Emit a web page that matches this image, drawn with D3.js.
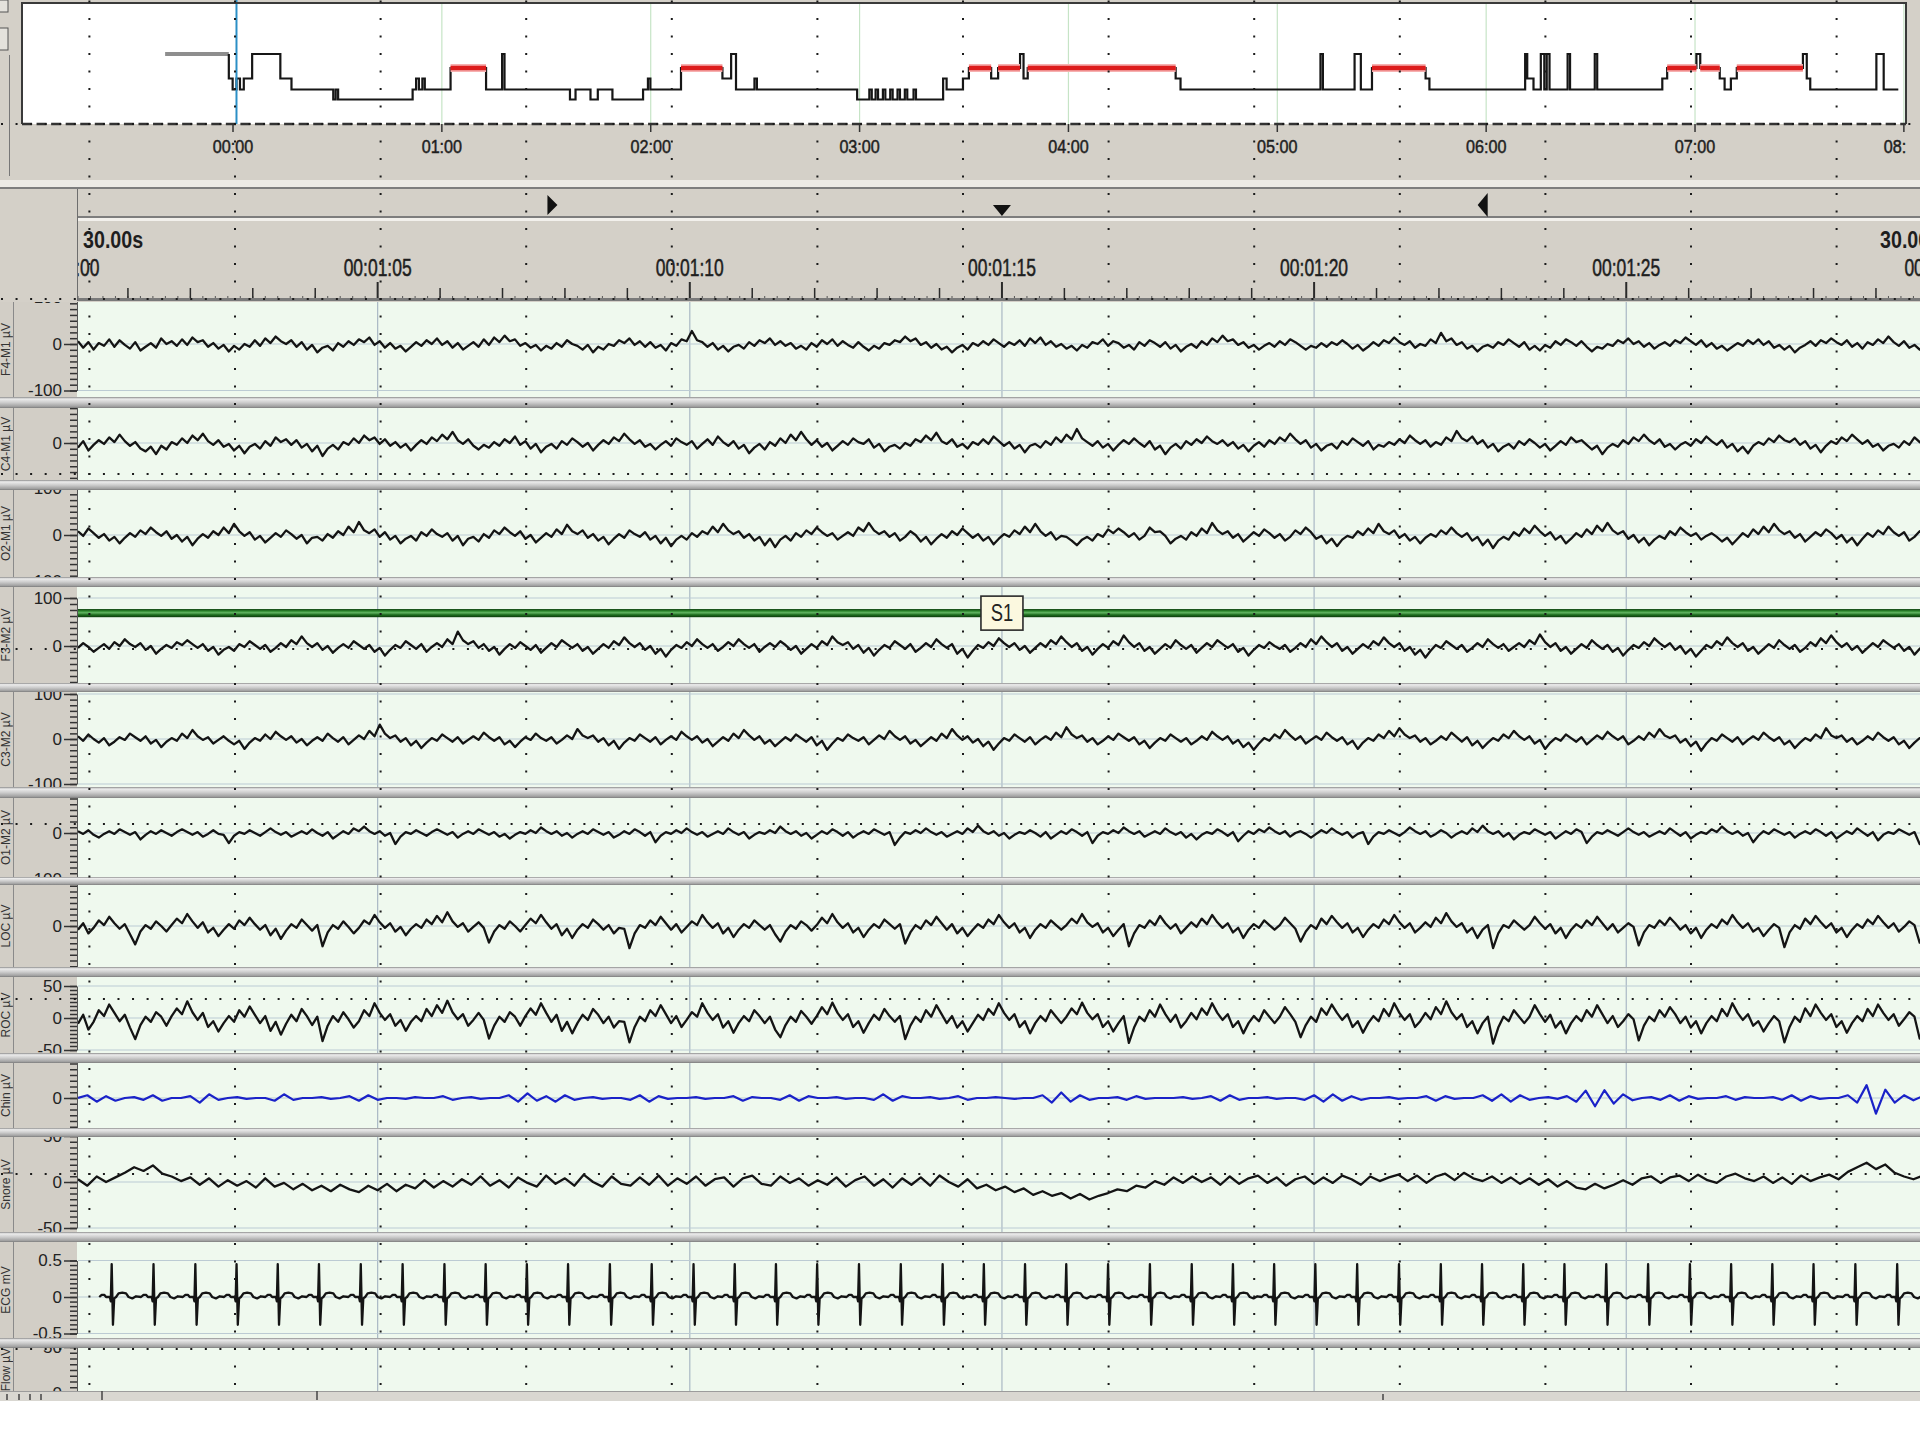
<!DOCTYPE html>
<html>
<head>
<meta charset="utf-8">
<script src="https://cdn.jsdelivr.net/npm/d3@7"></script>
<style>
  body { margin: 0; background: #ffffff; }
  svg { display: block; }
</style>
</head>
<body>
<div id="vis-holder"></div>
<script>
// ---------------- data ----------------

// Hypnogram: minute (from 00:00) at which each stage starts
const lightsOff = [-19.5, -1.2];
const hypnoMinutes = [-1.2, -0.1, 1.0, 2.0, 3.1, 5.5, 13.6, 16.8, 28.8, 29.5, 30.2, 51.6, 52.6, 53.4, 54.4, 55.1,
  62.5, 72.7, 77.3, 78.0, 96.8, 98.4, 102.7, 104.8, 109.0, 117.8, 119.2, 119.9, 128.7, 140.6, 143.1, 144.5,
  149.8, 150.5, 179.3, 182.8, 183.5, 184.6, 185.3, 186.7, 187.4, 188.8, 189.5, 190.9, 191.6, 193.0, 193.7,
  195.5, 196.2, 204.0, 205.0, 209.7, 211.4, 217.8, 219.8, 226.1, 227.1, 228.3, 270.8, 272.2, 312.4, 313.1,
  322.2, 324.0, 327.2, 342.6, 343.7, 371.2, 371.8, 373.6, 375.7, 376.7, 377.4, 378.2, 383.4, 384.1, 391.2,
  391.9, 410.6, 412.0, 420.4, 421.5, 427.1, 428.5, 430.3, 432.0, 451.0, 452.1, 453.1, 472.1, 474.2];
const hypnoStages = ["N1", "N2", "N1", "N2", "N1", "W", "N1", "N2", "N3", "N2", "N3", "N2", "N1", "N2", "N1", "N2",
  "R", "N2", "W", "N2", "N3", "N2", "N3", "N2", "N3", "N2", "N1", "N2", "R", "N1", "W", "N2",
  "N1", "N2", "N3", "N2", "N3", "N2", "N3", "N2", "N3", "N2", "N3", "N2", "N3", "N2", "N3",
  "N2", "N3", "N1", "N2", "N1", "R", "N1", "R", "W", "N1", "R", "N1", "N2", "W", "N2",
  "W", "N2", "R", "N1", "N2", "W", "N1", "N2", "W", "N2", "W", "N2", "W", "N2", "W",
  "N2", "N1", "R", "W", "R", "N1", "N2", "N1", "R", "W", "N1", "N2", "W", "N2"];
const hypnoEnd = 478.4;
const stageNames = ["W", "R", "N1", "N2", "N3"];
const hourLabels = ["00:00", "01:00", "02:00", "03:00", "04:00", "05:00", "06:00", "07:00", "08:00"];
const cursorMinute = 1.0;

// 30 s page, seconds from 00:01:00
const pageLabel = "30.00s";
const rulerLabels = ["00:01:00", "00:01:05", "00:01:10", "00:01:15", "00:01:20", "00:01:25", "00:01:30"];
const navMarkers = [7.8, 15.0, 22.7];
const eventLabel = "S1";
const eventTime = 15.0;
const eventBand = [60, 77];

// Channels
const channelNames = ["F4-M1 µV", "C4-M1 µV", "O2-M1 µV", "F3-M2 µV", "C3-M2 µV", "O1-M2 µV",
  "LOC µV", "ROC µV", "Chin µV", "Snore µV", "ECG mV", "Flow µV"];
const channelLimits = [100, 100, 100, 100, 100, 100, 100, 50, 100, 50, 0.5, 50];

// EEG / EOG sampled every 1/12 s, chin and snore every 0.15 s, all from 0.2 s
const sampleStart = 0.2;
const fineStep = 1 / 12;
const coarseStep = 0.15;

const f4m1 = [
  6,-8,4,-12,2,-4,10,-6,8,-2,-10,4,-14,-6,2,-8,12,0,6,-4,
  10,-2,14,4,8,-6,2,-10,-2,-16,-4,-12,0,-6,8,-4,12,2,16,6,
  0,8,-6,4,-12,-2,-18,-8,-4,-14,2,-6,6,-2,10,4,14,-2,6,-8,
  2,-10,-4,-16,-6,4,-4,8,0,12,-2,6,-8,2,-12,-4,4,-6,10,-2,
  14,4,18,6,10,-4,2,-8,-2,-14,-4,-10,2,-6,8,0,-4,-12,-2,-18,
  -6,-12,0,-4,8,2,12,-2,6,-6,4,-8,-2,-14,2,-4,10,6,28,8,
  4,-6,2,-12,-4,-16,-6,-2,-10,4,-4,8,2,12,-2,6,-4,2,-10,-4,
  -12,2,-6,8,0,10,-4,6,-2,-8,4,-6,-14,-4,-10,2,-2,8,4,16,
  6,12,-2,4,-8,0,-12,-6,-18,-8,-2,-12,2,-4,6,-2,10,2,-6,4,
  -2,8,-4,12,2,14,-2,6,-6,0,-10,-4,-14,-2,-8,4,0,10,-4,6,
  2,-8,-2,-12,4,-4,8,2,-6,4,-10,-2,-16,-6,0,-8,6,-2,12,4,
  18,6,10,-2,4,-8,-2,-12,-4,2,-6,6,-2,10,4,-4,-12,-4,-8,2,
  -6,4,-2,8,0,-10,-2,-14,-6,4,-4,8,2,14,4,-2,6,-8,0,-4,
  10,2,24,6,12,-2,4,-10,-4,-16,-6,-2,-8,4,-2,10,2,-6,4,-12,
  -4,-14,-2,-8,6,-2,10,4,-4,6,-6,-16,-6,-10,0,-4,8,2,12,0,
  6,-6,2,-10,-2,4,-4,8,2,14,6,-2,8,-6,2,-10,-4,-14,-6,2,
  -4,8,0,10,-2,6,-8,-2,-12,-4,-18,-8,-2,6,-4,8,2,12,4,-2,
  8,-6,2,-10,4,-2,10,2,16,4,-4,6,-8,-2,-12,-4,2,-6,4,-2];
const c4m1 = [
  -10,4,-16,-4,6,-2,12,2,18,4,-6,2,-12,-18,-8,-24,-6,-14,2,-4,
  10,0,16,6,20,4,-4,6,-8,-2,-16,-6,-22,-8,-2,-12,4,-6,12,2,
  8,-4,6,-10,-2,-18,-6,-28,-12,-4,-14,2,-4,10,0,16,6,12,-2,8,
  -6,2,-10,-2,-16,-4,6,-2,12,4,18,8,24,6,-2,8,-6,-14,-4,-10,
  2,-6,8,0,14,-4,4,-12,-2,-20,-8,-2,-12,4,-4,10,2,-8,0,-16,
  -4,6,-2,12,4,20,8,-2,6,-8,-2,-14,-4,4,-6,10,2,-4,4,-12,
  -2,8,-4,14,2,-6,4,-12,-4,-22,-10,-2,-14,2,-6,10,0,18,6,24,
  8,-4,6,-8,0,-16,-6,4,-4,10,2,-2,8,-10,-2,-18,-8,-4,-12,0,
  -6,8,2,16,6,22,4,-2,8,-8,-2,-12,2,-4,8,-2,14,4,-6,2,
  -12,-4,-20,-6,-2,-10,4,-4,12,2,18,8,30,10,2,-6,4,-10,-2,-16,
  -4,6,-2,10,0,-8,4,-14,-6,-24,-10,-2,-12,4,-4,8,0,14,4,-2,
  6,-6,2,-12,-4,-18,-6,2,-8,6,-2,12,4,20,8,-2,6,-10,-2,-16,
  -6,-2,-12,4,-4,10,2,-6,4,-14,-4,-8,2,-4,8,0,16,6,-2,6,
  -8,2,-4,12,4,26,10,4,14,-2,6,-10,-2,-18,-8,-2,-12,4,-4,8,
  0,-10,-2,-16,-6,4,-4,12,2,6,-4,-14,-6,-24,-10,-2,-8,6,-2,12,
  4,18,6,-2,8,-8,-2,-14,-4,2,-6,8,0,14,4,-4,6,-10,-2,-18,
  -8,-22,-6,2,-4,10,2,16,6,2,10,-4,4,-12,-4,-20,-6,4,-2,12,
  4,18,8,-2,6,-8,-2,-16,-6,-2,-10,4,-4,12,2,-6,4,-12,-4,6];
const o2m1 = [
  8,-2,14,4,-6,2,-12,-4,-18,-6,4,-4,10,2,16,6,-2,8,-8,0,
  -14,-4,-22,-8,2,-6,8,0,16,4,24,8,-2,6,-10,-2,-16,-6,4,-4,
  10,2,-8,0,-18,-6,-4,-12,2,-6,8,0,18,6,28,10,4,12,-4,6,
  -10,-2,-18,-8,-2,-12,6,-2,12,2,-4,4,-12,-2,-22,-8,-4,-14,2,-6,
  10,2,16,6,-2,8,-8,0,-16,-6,4,-4,12,2,22,8,2,10,-6,2,
  -12,-4,-20,-8,2,-6,10,2,-4,6,-10,-2,-18,-6,-24,-10,-2,-10,4,-4,
  8,2,18,6,24,10,2,8,-6,2,-12,-4,-22,-8,-26,-10,-2,-12,4,-4,
  10,2,16,6,-2,4,-10,-2,6,-2,16,8,26,10,2,8,-4,4,-12,-4,
  8,0,-14,-4,-20,-8,2,-6,8,0,14,4,-6,2,-12,-4,-20,-8,2,-4,
  10,2,18,6,24,8,-2,6,-10,-2,-4,-12,-22,-10,-4,-12,2,-4,12,4,
  14,6,-4,4,-10,-2,16,6,8,-2,-18,-8,-2,-10,6,-2,14,4,26,10,
  2,8,-6,2,-14,-4,6,-2,12,4,-6,2,-12,-4,10,2,16,6,-8,-2,
  -18,-8,-24,-10,-2,-6,8,0,14,4,24,8,2,10,-6,2,-12,-4,-18,-6,
  2,-4,10,2,16,4,-4,4,-12,-4,-22,-10,-28,-12,-4,-10,6,-2,14,4,
  20,8,-2,6,-10,-2,-18,-8,4,-4,12,2,20,8,26,10,2,8,-8,0,
  -16,-6,-22,-10,-2,-8,8,0,16,6,-2,4,-10,-2,4,-4,-14,-6,-20,-8,
  4,-4,12,2,18,6,24,10,2,8,-6,2,-14,-4,6,-2,12,4,-8,0,
  -16,-6,-22,-8,4,-4,10,2,18,6,-2,6,-12,-4,8,0,16,4,-6,2];
const f3m2 = [
  -4,6,-2,-12,-4,4,-6,8,0,14,4,-2,6,-8,0,-16,-6,2,-4,8,
  2,12,4,-4,4,-10,-2,-18,-8,-2,-10,4,-2,10,2,-6,2,-12,-4,6,
  -2,12,4,20,6,-2,6,-8,0,-14,-4,4,-4,10,2,-6,2,-12,-4,-20,
  -8,2,-4,10,2,-6,4,-12,-2,6,-2,14,4,30,12,4,10,-4,4,-10,
  -2,-18,-6,4,-4,8,0,-8,2,-14,-4,6,-2,12,4,-4,4,-10,-2,-16,
  -6,4,-4,10,2,18,6,-2,6,-8,0,-16,-6,-22,-8,2,-4,8,0,14,
  4,-4,4,-10,-2,8,0,14,4,-4,4,-12,-2,6,-2,10,2,-8,0,-16,
  -6,4,-4,10,2,20,8,2,8,-6,2,-14,-4,-20,-8,2,-4,10,2,-6,
  4,-12,-4,6,-2,14,4,-4,4,-16,-6,-24,-10,2,-4,8,0,16,6,-2,
  6,-8,0,-14,-4,6,-2,12,4,20,8,-2,6,-10,-2,-18,-6,4,-4,10,
  2,22,8,-2,6,-10,-2,-16,-6,4,-4,12,2,-6,2,-14,-4,6,-2,12,
  4,-4,4,-12,-4,-20,-8,2,-4,8,0,-6,2,-12,-4,6,-2,14,4,20,
  8,-2,6,-10,-2,-16,-6,4,-4,10,2,18,6,-2,6,-10,-2,-18,-8,-24,
  -10,2,-4,10,2,-6,2,-12,-4,6,-2,14,4,-4,4,-10,-2,6,-2,12,
  4,24,8,-2,6,-10,-2,-16,-6,4,-4,12,2,-6,2,-12,-4,-20,-8,2,
  -4,8,0,16,6,-2,6,-8,0,-16,-6,-22,-10,2,-4,10,2,18,6,-2,
  6,-10,-2,-16,-6,4,-4,12,2,-6,2,-12,-4,8,0,16,6,22,8,-2,
  6,-8,0,-14,-4,6,-2,12,4,-4,4,-10,-2,-18,-6,4,-4,10,2,-6];
const c3m2 = [
  6,-4,10,0,-8,2,-14,-6,4,-2,12,4,-4,6,-10,-2,-18,-6,2,-4,
  12,2,20,6,-2,4,-10,-2,6,-4,-12,-4,-22,-8,2,-4,10,0,16,6,
  -2,6,-8,0,-14,-4,4,-4,12,2,-6,4,-12,-2,8,0,18,6,32,12,
  2,8,-6,2,-14,-4,-20,-8,2,-4,10,2,-6,4,-10,-2,6,-2,14,4,
  -4,4,-12,-4,-18,-6,4,-2,12,2,-4,4,-10,-2,8,0,22,8,2,8,
  -6,2,-14,-4,-22,-8,2,-4,10,2,-6,4,-12,-2,6,-2,16,6,-2,6,
  -8,0,-16,-6,4,-4,12,2,20,8,-2,6,-10,-2,-16,-6,4,-4,10,2,
  -6,4,-14,-4,-24,-10,2,-4,10,2,-4,4,-12,-2,8,0,18,6,-2,6,
  -10,-2,-16,-6,4,-4,12,2,22,8,-2,6,-8,0,-16,-6,-24,-10,2,-4,
  10,2,-6,4,-12,-2,6,-2,14,4,26,10,2,8,-6,2,-12,-4,6,-2,
  12,4,-4,4,-12,-4,-20,-8,2,-4,10,2,-6,2,-12,-4,6,-2,16,6,
  -2,6,-10,-2,-18,-8,-24,-10,2,-4,10,2,20,8,-2,6,-10,-2,6,-2,
  14,4,-4,4,-12,-4,-22,-8,2,-4,10,2,18,6,24,10,2,8,-6,2,
  -12,-4,6,-2,14,4,-6,4,-14,-4,-20,-8,2,-4,10,2,18,6,-2,6,
  -10,-2,-22,-8,2,-4,10,2,-6,4,-12,-2,8,0,16,6,-2,6,-12,-4,
  6,-2,14,4,22,8,2,8,-8,0,-16,-6,-26,-10,2,-4,10,2,-6,4,
  -12,-2,6,-2,14,4,-4,4,-12,-4,-20,-8,2,-4,10,2,24,8,2,8,
  -6,2,-12,-4,6,-2,14,4,-4,4,-12,-4,-20,-8,2,-4,10,2,-6,4];
const o1m2 = [
  4,-2,6,-4,-10,-2,4,-2,8,2,-4,2,-14,-4,4,-2,6,0,-6,2,
  8,2,-4,2,-8,-2,6,-2,-4,-22,-6,2,-2,6,0,-6,2,10,2,-4,
  2,-8,-2,4,-2,8,0,-6,2,-12,-4,4,-2,10,4,14,4,-2,4,-6,
  0,-24,-8,2,-2,6,0,-6,2,8,2,-4,2,-10,-2,4,-2,8,2,-4,
  2,-8,-2,-12,-4,2,-2,6,0,12,4,-2,4,-6,0,-10,-2,4,-2,8,
  2,-4,2,-10,-4,4,-2,8,2,-6,2,-20,-6,2,-2,6,0,10,2,-4,
  2,-8,-2,4,-2,10,2,-4,2,-12,-4,2,-2,6,0,14,4,-2,4,-6,
  0,-12,-4,4,-2,8,2,-6,2,-10,-2,4,-2,8,2,-4,2,-26,-10,2,
  -2,6,0,10,2,-4,2,-8,-2,4,-2,10,2,16,4,-2,4,-6,0,-12,
  -4,2,-2,6,0,-8,2,-12,-4,4,-2,8,2,-6,2,-22,-6,2,-2,6,
  0,12,4,-2,4,-8,-2,4,-2,10,2,-4,2,-10,-2,-14,-4,2,-2,8,
  2,-6,2,-18,-6,4,-2,8,2,12,4,-2,4,-8,0,4,-2,-10,-2,6,
  0,10,2,-4,2,-10,-2,2,-24,-8,2,-2,6,0,-6,2,12,4,-2,4,
  -8,-2,6,0,-10,-2,4,-2,10,2,16,4,-2,4,-8,0,-14,-4,2,-2,
  8,2,-4,2,-12,-4,4,-2,8,2,-22,-8,2,-2,6,0,-6,2,10,2,
  -4,2,-8,-2,4,-2,10,2,-6,2,-12,-4,2,-2,8,2,14,4,-2,4,
  -6,0,-20,-6,4,-2,8,2,-4,2,-10,-2,4,-2,8,2,-6,2,-12,-4,
  4,-2,10,2,-6,2,-16,-4,2,-2,8,2,-4,2,-24,-8,2,-2,6,0];
const loc = [
  -8,6,-16,-4,12,2,20,6,-6,4,-18,-40,-12,2,-6,10,0,-12,2,16,
  6,26,10,-4,8,-14,-4,-22,-8,4,-6,12,2,18,4,-8,2,-20,-6,-28,
  -10,4,-4,14,2,-10,2,-44,-14,2,-6,10,-2,-16,-4,12,4,24,8,-4,
  6,-12,-2,-20,-6,4,-4,14,4,22,8,30,10,-2,6,-12,-2,8,-4,-36,
  -12,2,-6,10,0,-12,2,16,6,24,8,-6,4,-20,-6,-26,-8,4,-4,14,
  4,-8,2,-16,-4,-6,-48,-16,2,-4,12,2,20,6,-8,4,-14,-2,10,2,
  24,8,-4,6,-16,-4,-24,-8,4,-4,12,2,-8,2,-18,-34,-12,2,-6,10,
  2,-10,2,18,6,26,8,-4,6,-14,-4,-24,-8,4,-4,14,4,-6,4,-38,
  -14,2,-6,12,2,20,6,-8,4,-16,-4,-22,-8,4,-4,14,4,24,8,-4,
  6,-14,-4,-26,-8,4,-4,12,2,-8,2,16,6,26,8,-2,6,-14,-4,-22,
  -8,4,-44,-16,2,-4,12,2,22,6,-6,4,-16,-4,8,-2,16,4,24,8,
  -4,6,-14,-4,-26,-8,4,-4,12,2,-8,2,18,6,-6,-34,-12,2,-6,16,
  4,22,8,-4,6,-14,-4,-24,-8,4,-4,14,4,24,8,-4,6,-14,-4,8,
  -2,18,6,28,10,-2,6,-14,-4,-26,-8,2,-48,-16,2,-4,12,2,-8,2,
  20,6,-6,4,-16,-4,-26,-8,4,-4,12,2,20,6,-8,4,-14,-4,6,-2,
  -42,-14,2,-4,12,2,18,6,-8,2,-16,-4,-26,-8,4,-4,14,4,24,8,
  -4,6,-12,-4,-22,-8,4,-4,-46,-14,2,-6,16,4,22,8,-4,6,-14,-4,
  -24,-8,4,-4,14,4,22,8,-4,6,-12,-2,10,2,-36,-12,2,-6,10,2];
const roc = [
  -9,5,-18,-6,12,3,21,8,-5,5,-15,-33,-11,2,-6,9,2,-12,3,15,
  6,26,9,-3,8,-14,-5,-21,-8,3,-6,12,2,18,5,-8,3,-20,-6,-26,
  -9,5,-5,14,3,-11,2,-36,-12,3,-6,9,-2,-15,-5,12,3,23,8,-3,
  6,-12,-3,-20,-6,3,-5,14,3,20,8,27,9,-2,6,-12,-3,8,-3,-32,
  -12,2,-6,9,2,-12,3,15,5,23,8,-6,5,-20,-6,-24,-8,5,-3,14,
  5,-8,2,-15,-5,-6,-38,-14,2,-5,12,3,20,6,-8,3,-14,-3,9,2,
  23,8,-3,6,-15,-5,-23,-8,3,-5,12,3,-8,2,-18,-30,-11,2,-6,11,
  2,-9,3,17,6,24,8,-3,6,-14,-5,-23,-8,5,-3,14,3,-6,3,-33,
  -12,2,-6,12,2,20,6,-8,3,-15,-5,-21,-8,5,-3,14,5,23,8,-3,
  6,-14,-5,-24,-8,3,-5,12,2,-8,2,15,6,24,8,-2,6,-14,-5,-21,
  -8,3,-39,-15,2,-5,12,2,21,6,-6,5,-15,-5,8,-2,15,5,23,8,
  -3,6,-14,-5,-24,-8,3,-5,12,2,-8,2,17,6,-6,-30,-11,2,-6,15,
  5,21,8,-3,6,-14,-5,-23,-8,3,-5,14,3,23,8,-3,6,-14,-5,8,
  -2,17,6,26,9,-2,6,-14,-5,-24,-8,2,-40,-15,2,-5,12,2,-8,2,
  20,6,-6,5,-15,-5,-24,-8,3,-5,12,2,20,6,-8,3,-14,-5,6,-2,
  -35,-12,2,-5,12,2,17,6,-8,2,-15,-5,-24,-8,3,-5,14,3,23,8,
  -3,6,-12,-5,-21,-8,3,-5,-38,-14,2,-6,15,3,21,8,-3,6,-14,-5,
  -23,-8,3,-5,14,3,21,8,-3,6,-12,-2,9,2,-32,-11,2,-6,9,2];
const chin = [
  0,6,-8,4,-6,0,2,-4,6,-6,0,0,4,-10,8,-4,0,2,-2,0,
  0,-6,8,-4,0,0,2,-2,0,4,-6,6,-4,0,0,-2,2,0,0,4,
  -4,0,2,-2,0,0,6,-8,10,-6,4,-8,6,-4,0,2,-2,0,0,-4,
  6,-8,4,-2,0,0,2,-2,0,0,4,-6,2,0,0,-4,6,-6,4,0,
  0,2,-2,0,0,-4,8,-6,4,0,0,2,-2,0,4,-4,0,0,2,0,
  -2,0,0,6,-10,12,-8,6,-4,0,0,2,-4,4,-2,0,0,0,2,-2,
  0,4,-6,6,-4,0,0,2,-2,0,0,-4,6,-8,8,-6,4,-4,0,0,
  2,-2,0,0,4,-6,4,-2,0,0,6,-6,8,-8,6,-4,0,2,-2,4,
  -8,16,-18,17,-12,8,-5,0,2,-4,6,-6,4,-2,0,0,4,-4,2,0,
  0,2,-4,6,-6,4,-2,0,0,6,-10,28,-34,18,-10,6,-5,4,-2,0];
const snore = [
  3,-4,6,0,5,10,16,12,18,9,6,1,5,-3,4,-5,2,-4,1,-6,
  4,-5,-1,-8,-2,-9,-4,-10,-3,-8,-11,-4,-9,-2,-10,-3,-7,2,-6,1,
  -5,3,-3,6,-4,2,-6,5,-1,-5,7,-2,4,-4,8,0,-5,6,-2,-4,
  5,-3,7,-4,4,-2,6,-4,3,5,-5,4,7,-2,-4,6,-1,4,-4,2,
  -3,5,-5,2,6,-4,3,-6,4,-3,5,-4,7,0,-5,3,-7,-3,-9,-5,
  -11,-7,-14,-10,-15,-12,-18,-13,-19,-15,-12,-8,-10,-4,-6,1,-3,5,-1,6,
  0,5,-3,6,-2,4,7,-1,5,-4,3,6,-2,5,-1,7,3,-3,6,1,
  5,8,1,7,-1,6,9,2,10,4,1,6,-1,5,-2,4,-3,3,-5,1,
  -6,-8,-2,-7,-3,2,-3,4,6,-1,5,7,1,8,2,-1,6,9,4,1,
  6,-1,5,-2,7,1,5,8,3,11,16,21,14,19,10,6,3,7,2,4];

// ECG: R-peak times (s) and the beat waveform around each peak
const ecgBeats = [0.74, 1.41, 2.08, 2.74, 3.40, 4.06, 4.73, 5.40, 6.07, 6.73, 7.39, 8.05, 8.72, 9.39,
  10.06, 10.72, 11.38, 12.04, 12.71, 13.38, 14.05, 14.71, 15.37, 16.03, 16.70, 17.37, 18.04, 18.70,
  19.36, 20.02, 20.69, 21.36, 22.03, 22.69, 23.35, 24.01, 24.68, 25.35, 26.02, 26.68, 27.34, 28.00,
  28.67, 29.34, 30.00];
const ecgOffsets = [-0.20, -0.16, -0.12, -0.09, -0.03, -0.015, 0, 0.02, 0.04, 0.07, 0.11, 0.17, 0.23, 0.27, 0.33, 0.39];
const ecgLevels = [0, 0.03, 0.03, 0, 0, -0.06, 0.45, -0.38, -0.02, 0, 0.05, 0.06, 0.05, 0, -0.02, 0.01];

const traces = [f4m1, c4m1, o2m1, f3m2, c3m2, o1m2, loc, roc, chin, snore, null, null];

// ---------------- layout ----------------
const width = 1920;
const height = 1440;
const leftCol = 77;
const uiGrey = "#d4d0c8";
const panelBg = "#eff9ee";

// channel rows: top, bottom, zero line, pixels per channel limit
const rows = [
  { top: 302, bottom: 397, zero: 344, span: 46.5 },
  { top: 408, bottom: 480, zero: 443, span: 46.5 },
  { top: 490, bottom: 577, zero: 535, span: 46.5 },
  { top: 587, bottom: 683, zero: 646, span: 48 },
  { top: 692, bottom: 787, zero: 739, span: 45 },
  { top: 798, bottom: 877, zero: 833, span: 46 },
  { top: 885, bottom: 967, zero: 926, span: 46 },
  { top: 977, bottom: 1053, zero: 1018, span: 32 },
  { top: 1063, bottom: 1128, zero: 1098, span: 46 },
  { top: 1137, bottom: 1232, zero: 1182, span: 46 },
  { top: 1242, bottom: 1338, zero: 1297, span: 36.5 },
  { top: 1348, bottom: 1391, zero: 1393, span: 46 }
];

const svg = d3.select("#vis-holder")
  .append("svg")
  .attr("width", width)
  .attr("height", height)
  .attr("viewBox", [0, 0, width, height])
  .style("font-family", "'Liberation Sans', Arial, sans-serif");

const defs = svg.append("defs");

const sepGrad = defs.append("linearGradient")
  .attr("id", "sep").attr("x1", 0).attr("x2", 0).attr("y1", 0).attr("y2", 1);
[["0%", "#8a8a8a"], ["18%", "#ececec"], ["50%", "#cdcdcd"], ["85%", "#a2a2a2"], ["100%", "#7c7c7c"]]
  .forEach(s => sepGrad.append("stop").attr("offset", s[0]).attr("stop-color", s[1]));

const greenGrad = defs.append("linearGradient")
  .attr("id", "band").attr("x1", 0).attr("x2", 0).attr("y1", 0).attr("y2", 1);
[["0%", "#0c3f0c"], ["25%", "#2f8a2f"], ["45%", "#62b462"], ["70%", "#1f6f1f"], ["100%", "#0b3a0b"]]
  .forEach(s => greenGrad.append("stop").attr("offset", s[0]).attr("stop-color", s[1]));

// page background
svg.append("rect").attr("width", width).attr("height", 1401).attr("fill", uiGrey);

// ---------------- hypnogram ----------------
const xh = d3.scaleLinear().domain([0, 60]).range([233, 233 + 208.86]);
const yh = d3.scaleOrdinal().domain(stageNames).range([54, 68, 78.5, 89.5, 99.5]);

const hypBox = { x0: 22, x1: 1906, y0: 3, y1: 124 };

defs.append("clipPath").attr("id", "hypclip")
  .append("rect").attr("x", hypBox.x0).attr("y", 0)
  .attr("width", hypBox.x1 - hypBox.x0).attr("height", 170);

svg.append("rect")
  .attr("x", hypBox.x0).attr("y", hypBox.y0)
  .attr("width", hypBox.x1 - hypBox.x0).attr("height", hypBox.y1 - hypBox.y0)
  .attr("fill", "#ffffff");

// hour grid lines
svg.append("g").selectAll("line")
  .data(hourLabels.slice(1))
  .enter().append("line")
    .attr("x1", (d, i) => xh((i + 1) * 60)).attr("x2", (d, i) => xh((i + 1) * 60))
    .attr("y1", hypBox.y0).attr("y2", hypBox.y1)
    .attr("stroke", "#c6e4c6").attr("stroke-width", 1.2);

const hyp = svg.append("g").attr("clip-path", "url(#hypclip)");

// lights-off part
hyp.append("line")
  .attr("x1", xh(lightsOff[0])).attr("x2", xh(lightsOff[1]))
  .attr("y1", yh("W")).attr("y2", yh("W"))
  .attr("stroke", "#8e8e8e").attr("stroke-width", 4);

const hypPoints = [{ m: lightsOff[1], s: "W" }]
  .concat(hypnoMinutes.map((m, i) => ({ m: m, s: hypnoStages[i] })))
  .concat([{ m: hypnoEnd, s: hypnoStages[hypnoStages.length - 1] }]);

const stepLine = d3.line()
  .x(d => xh(d.m))
  .y(d => yh(d.s))
  .curve(d3.curveStepAfter);

hyp.append("path")
  .datum(hypPoints)
  .attr("d", stepLine)
  .attr("fill", "none")
  .attr("stroke", "#161616")
  .attr("stroke-width", 2.2);

// REM periods in red
const remSegs = hypnoMinutes
  .map((m, i) => ({ a: m, b: i < hypnoMinutes.length - 1 ? hypnoMinutes[i + 1] : hypnoEnd, s: hypnoStages[i] }))
  .filter(d => d.s === "R");

hyp.selectAll(".remglow").data(remSegs).enter().append("line")
  .attr("x1", d => xh(d.a)).attr("x2", d => xh(d.b))
  .attr("y1", yh("R")).attr("y2", yh("R"))
  .attr("stroke", "#f6b0b0").attr("stroke-width", 8);
hyp.selectAll(".rem").data(remSegs).enter().append("line")
  .attr("x1", d => xh(d.a)).attr("x2", d => xh(d.b))
  .attr("y1", yh("R")).attr("y2", yh("R"))
  .attr("stroke", "#dd1c1c").attr("stroke-width", 4.5);

// cursor at the current page
svg.append("line")
  .attr("x1", xh(cursorMinute)).attr("x2", xh(cursorMinute))
  .attr("y1", 0).attr("y2", hypBox.y1)
  .attr("stroke", "#2b8fc6").attr("stroke-width", 2);

// frame
svg.append("path")
  .attr("d", `M${hypBox.x0},${hypBox.y1}V${hypBox.y0}H${hypBox.x1}V${hypBox.y1}`)
  .attr("fill", "none").attr("stroke", "#3a3a3a").attr("stroke-width", 2);
svg.append("line")
  .attr("x1", hypBox.x0).attr("x2", hypBox.x1)
  .attr("y1", hypBox.y1).attr("y2", hypBox.y1)
  .attr("stroke", "#333").attr("stroke-width", 2.5)
  .attr("stroke-dasharray", "10,4.56");

// hour ticks and labels
const hourG = svg.append("g").attr("clip-path", "url(#hypclip)");
hourG.selectAll("line").data(hourLabels).enter().append("line")
  .attr("x1", (d, i) => xh(i * 60)).attr("x2", (d, i) => xh(i * 60))
  .attr("y1", hypBox.y1).attr("y2", hypBox.y1 + 8)
  .attr("stroke", "#333").attr("stroke-width", 1.5);
hourG.selectAll("text").data(hourLabels).enter().append("text")
  .attr("transform", (d, i) => `translate(${xh(i * 60)},153) scale(0.85,1)`)
  .attr("text-anchor", "middle")
  .attr("font-size", 19)
  .attr("fill", "#1e1e1e")
  .attr("stroke", "#1e1e1e").attr("stroke-width", 0.5)
  .text(d => d);

// little toolbar on the far left
svg.append("rect").attr("x", -2).attr("y", 0).attr("width", 10).attr("height", 12)
  .attr("fill", "#e4e2dc").attr("stroke", "#555");
svg.append("rect").attr("x", -2).attr("y", 28).attr("width", 10).attr("height", 22)
  .attr("fill", "#e4e2dc").attr("stroke", "#555");
svg.append("line").attr("x1", 9.5).attr("x2", 9.5).attr("y1", 55).attr("y2", 176)
  .attr("stroke", "#777");

// ---------------- navigation bar and ruler ----------------
const x = d3.scaleLinear().domain([0, 30]).range([65.5, 65.5 + 62.43 * 30]);

svg.append("rect").attr("x", 0).attr("y", 180).attr("width", width).attr("height", 7).attr("fill", "#eceae5");
svg.append("rect").attr("x", 0).attr("y", 187).attr("width", width).attr("height", 2).attr("fill", "#7d7d7d");
svg.append("rect").attr("x", leftCol).attr("y", 216).attr("width", width).attr("height", 2).attr("fill", "#7d7d7d");
svg.append("rect").attr("x", leftCol).attr("y", 218).attr("width", width).attr("height", 3).attr("fill", "#f2f0ec");
svg.append("line").attr("x1", leftCol + 0.5).attr("x2", leftCol + 0.5).attr("y1", 189).attr("y2", 301)
  .attr("stroke", "#6e6e6e");

const navShapes = [
  "M-5,-10L5,0L-5,10Z",
  "M-9,-5L9,-5L0,6Z",
  "M5,-12L-5,0L5,12Z"
];
svg.selectAll(".nav").data(navMarkers).enter().append("path")
  .attr("transform", d => `translate(${x(d)},${d === 15 ? 210 : 205})`)
  .attr("d", (d, i) => navShapes[i])
  .attr("fill", "#111");

defs.append("clipPath").attr("id", "rulerclip")
  .append("rect").attr("x", leftCol + 1).attr("y", 222).attr("width", width).attr("height", 80);

const ruler = svg.append("g").attr("clip-path", "url(#rulerclip)");

// tiny 0.2 s ticks, 1 s ticks, 5 s ticks
ruler.selectAll(".t02").data(d3.range(0, 151)).enter().append("line")
  .attr("x1", d => x(d * 0.2)).attr("x2", d => x(d * 0.2))
  .attr("y1", 296).attr("y2", 300).attr("stroke", "#555").attr("stroke-width", 1);
ruler.selectAll(".t1").data(d3.range(0, 31)).enter().append("line")
  .attr("x1", d => x(d)).attr("x2", d => x(d))
  .attr("y1", d => d % 5 === 0 ? 282 : 288).attr("y2", 300)
  .attr("stroke", "#2a2a2a").attr("stroke-width", d => d % 5 === 0 ? 2 : 1.5);
svg.append("rect").attr("x", leftCol + 1).attr("y", 298).attr("width", width).attr("height", 3).attr("fill", "#7a7a7a");

ruler.selectAll(".rl").data(rulerLabels).enter().append("text")
  .attr("transform", (d, i) => `translate(${x(i * 5)},276) scale(0.76,1)`)
  .attr("text-anchor", "middle")
  .attr("font-size", 23)
  .attr("fill", "#1e1e1e")
  .attr("stroke", "#1e1e1e").attr("stroke-width", 0.5)
  .text(d => d);

ruler.append("text")
  .attr("transform", "translate(83,248) scale(0.82,1)")
  .attr("font-size", 24).attr("font-weight", "bold").attr("fill", "#1e1e1e")
  .text(pageLabel);
ruler.append("text")
  .attr("transform", "translate(1880,248) scale(0.82,1)")
  .attr("font-size", 24).attr("font-weight", "bold").attr("fill", "#1e1e1e")
  .text(pageLabel);

// ---------------- channels ----------------
const traceLine = (y) => d3.line()
  .x(d => x(d.t))
  .y(d => y(d.v));

const ecgPoints = [];
ecgBeats.forEach(b => ecgOffsets.forEach((o, k) => ecgPoints.push({ t: b + o, v: ecgLevels[k] })));

rows.forEach((r, i) => {
  const lim = channelLimits[i];
  const y = d3.scaleLinear().domain([-lim, lim]).range([r.zero + r.span, r.zero - r.span]);

  defs.append("clipPath").attr("id", "clip" + i)
    .append("rect").attr("x", 0).attr("y", r.top).attr("width", width).attr("height", r.bottom - r.top);
  defs.append("clipPath").attr("id", "plot" + i)
    .append("rect").attr("x", leftCol + 1).attr("y", r.top).attr("width", width).attr("height", r.bottom - r.top);
  defs.append("clipPath").attr("id", "name" + i)
    .append("rect").attr("x", 0).attr("y", r.top).attr("width", 13).attr("height", r.bottom - r.top);

  const g = svg.append("g").attr("clip-path", `url(#clip${i})`);

  g.append("rect").attr("x", leftCol).attr("y", r.top)
    .attr("width", width - leftCol).attr("height", r.bottom - r.top)
    .attr("fill", panelBg);

  const plot = g.append("g").attr("clip-path", `url(#plot${i})`);

  // 5 s lines
  plot.selectAll(".v5").data([5, 10, 15, 20, 25]).enter().append("line")
    .attr("x1", d => x(d)).attr("x2", d => x(d))
    .attr("y1", r.top).attr("y2", r.bottom)
    .attr("stroke", "#a9b8c4").attr("stroke-width", 1.2);

  // scale lines
  plot.selectAll(".h").data([-lim, 0, lim]).enter().append("line")
    .attr("x1", leftCol).attr("x2", width)
    .attr("y1", d => y(d)).attr("y2", d => y(d))
    .attr("stroke", "#bccbd3").attr("stroke-width", 1.2);

  // event band on F3
  if (i === 3) {
    plot.append("rect")
      .attr("x", leftCol).attr("y", y(eventBand[1]))
      .attr("width", width).attr("height", y(eventBand[0]) - y(eventBand[1]))
      .attr("fill", "url(#band)");
  }

  // signal
  let pts = null;
  if (traces[i]) {
    const step = traces[i].length > 250 ? fineStep : coarseStep;
    pts = traces[i].map((v, k) => ({ t: sampleStart + k * step, v: v }));
  } else if (i === 10) {
    pts = ecgPoints;
  }
  if (pts) {
    plot.append("path")
      .datum(pts)
      .attr("d", traceLine(y))
      .attr("fill", "none")
      .attr("stroke", i === 8 ? "#1a22c8" : "#141414")
      .attr("stroke-width", i === 8 ? 2.2 : 2.3)
      .attr("stroke-linejoin", "round");
  }

  if (i === 3) {
    const bx = x(eventTime);
    const by = y((eventBand[0] + eventBand[1]) / 2);
    plot.append("rect")
      .attr("x", bx - 21).attr("y", by - 17).attr("width", 42).attr("height", 34)
      .attr("fill", "#fbf8df").attr("stroke", "#2a2a2a").attr("stroke-width", 1.6);
    plot.append("text")
      .attr("transform", `translate(${bx},${by + 8}) scale(0.8,1)`)
      .attr("text-anchor", "middle")
      .attr("font-size", 23)
      .attr("fill", "#222")
      .text(eventLabel);
  }

  // left label column
  g.append("rect").attr("x", 0).attr("y", r.top).attr("width", leftCol).attr("height", r.bottom - r.top)
    .attr("fill", "#d2cec6");
  g.append("line").attr("x1", 13.5).attr("x2", 13.5).attr("y1", r.top).attr("y2", r.bottom)
    .attr("stroke", "#8a8a8a");
  g.append("g").attr("clip-path", `url(#name${i})`)
    .append("text")
    .attr("transform", `translate(10,${(r.top + r.bottom) / 2}) rotate(-90)`)
    .attr("text-anchor", "middle")
    .attr("font-size", 12)
    .attr("fill", "#333")
    .text(channelNames[i]);

  // minor ticks
  const minor = d3.range(-8, 9).map(k => k * lim / 8);
  g.append("g")
    .attr("transform", `translate(${leftCol},0)`)
    .call(d3.axisLeft(y).tickValues(minor).tickSize(7).tickSizeOuter(0).tickFormat(""))
    .call(a => a.selectAll("line").attr("stroke", "#333").attr("stroke-width", 1.5))
    .call(a => a.select(".domain").attr("stroke", "#555"));

  // labelled ticks, only those that reach into the row
  const labelled = [-lim, 0, lim].filter(v => y(v) >= r.top - 4.5 && y(v) <= r.bottom + 4.5);
  g.append("g")
    .attr("transform", `translate(${leftCol},0)`)
    .call(d3.axisLeft(y).tickValues(labelled).tickSize(13).tickSizeOuter(0).tickPadding(2)
      .tickFormat(d => String(d)))
    .call(a => a.select(".domain").remove())
    .call(a => a.selectAll("line").attr("stroke", "#333").attr("stroke-width", 1.5))
    .call(a => a.selectAll("text")
      .attr("font-size", 17)
      .attr("font-family", "'Liberation Sans', Arial, sans-serif")
      .attr("fill", "#222"));
});

// separators between channels
rows.slice(0, -1).forEach((r, i) => {
  svg.append("rect")
    .attr("x", 0).attr("y", r.bottom)
    .attr("width", width).attr("height", rows[i + 1].top - r.bottom)
    .attr("fill", "url(#sep)");
});

// bottom strip
svg.append("rect").attr("x", 0).attr("y", 1391).attr("width", width).attr("height", 10).attr("fill", "#d9d7d1");
svg.append("line").attr("x1", 0).attr("x2", width).attr("y1", 1391.5).attr("y2", 1391.5).attr("stroke", "#9c9c9c");
svg.selectAll(".bt").data([7, 19, 30, 41, 102, 317, 1383]).enter().append("line")
  .attr("x1", d => d).attr("x2", d => d)
  .attr("y1", d => d === 102 || d === 317 ? 1391 : 1394).attr("y2", 1400)
  .attr("stroke", "#444").attr("stroke-width", 1.5);
svg.append("rect").attr("x", 0).attr("y", 1401).attr("width", width).attr("height", 39).attr("fill", "#ffffff");

// ---------------- dotted screen grid ----------------
const dots = svg.append("g").attr("fill", "#1a1a1a");
const colX = d3.range(0, 13).map(k => 89.4 + 145.6 * k);
colX.forEach(cx => {
  dots.selectAll(null).data(d3.range(0, 80)).enter().append("rect")
    .attr("x", cx - 1).attr("y", d => 1.5 + 17.5 * d - 1)
    .attr("width", 2).attr("height", 2);
});
const rowY = d3.range(0, 8).map(k => 124 + 175 * k);
rowY.forEach(ry => {
  dots.selectAll(null).data(d3.range(0, 132)).enter().append("rect")
    .attr("x", d => 2 + 14.56 * d - 1).attr("y", ry - 1)
    .attr("width", 2).attr("height", 2);
});
</script>
</body>
</html>
